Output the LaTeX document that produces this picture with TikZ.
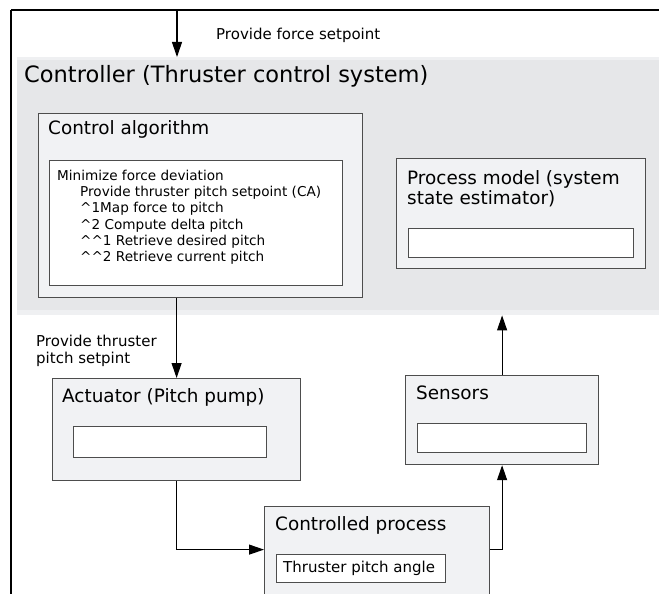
\documentclass[tikz,border=0pt]{standalone}
\usepackage{fontspec}
\setmainfont{DejaVu Sans}
\usetikzlibrary{arrows.meta}

\definecolor{ctrlgrey}{HTML}{E6E7E9}
\definecolor{ctrledge}{HTML}{EFF0F2}
\definecolor{boxfill}{HTML}{F1F2F4}
\definecolor{boxline}{HTML}{4D4D4D}

\tikzset{
  box/.style={draw=boxline, fill=boxfill, line width=1.2pt, inner sep=0pt, anchor=north west},
  slot/.style={draw=boxline, fill=white, line width=1pt, inner sep=0pt, anchor=north west},
  arr/.style={line width=1.1pt, -{Triangle[length=15pt,width=10pt]}},
  bigtitle/.style={anchor=base west, inner sep=0pt, font=\fontsize{22.5}{26}\selectfont},
  title/.style={anchor=base west, inner sep=0pt, align=left, font=\fontsize{18.4}{20}\selectfont},
  label/.style={anchor=base west, inner sep=0pt, align=left, font=\fontsize{15}{17}\selectfont},
  small/.style={anchor=base west, inner sep=0pt, font=\fontsize{13.6}{16.2}\selectfont}
}

\begin{document}
\begin{tikzpicture}[x=1pt,y=-1pt]
\useasboundingbox (0,0) rectangle (659,594);
\clip (0,0) rectangle (659,594);

% frame
\draw[line width=2pt](11,10)--(659,10) ;
\draw[line width=2pt](11,10)--(11,594) ;

% controller area
\node[anchor=north west, fill=ctrledge, minimum width=642pt, minimum height=258pt, inner sep=0pt] (ctrl) at (17,57) {};
\fill[ctrlgrey] (17,60) rectangle (659,310) ;
\node[bigtitle] (ctrltitle) at (24,82) {Controller (Thruster control system)};

% control algorithm
\node[box, minimum width=324pt, minimum height=184pt] (alg) at (38,113) {};
\node[title] (algtitle) at (48,134.5) {Control algorithm};
\node[slot, minimum width=293pt, minimum height=125pt] (algslot) at (49,160) {};
\node[small] (line1) at (57,180.5) {Minimize force deviation};
\node[small] (line2) at (80,196.7) {Provide thruster pitch setpoint (CA)};
\node[small] (line3) at (80,212.9) {\^{}1Map force to pitch};
\node[small] (line4) at (80,229.1) {\^{}2 Compute delta pitch};
\node[small] (line5) at (80,245.3) {\^{}\^{}1 Retrieve desired pitch};
\node[small] (line6) at (80,261.5) {\^{}\^{}2 Retrieve current pitch};

% process model
\node[box, minimum width=249pt, minimum height=110pt] (model) at (396,158) {};
\node[title] (modeltitle) at (407,204) {Process model (system\\state estimator)};
\node[slot, minimum width=225pt, minimum height=29pt] (modelslot) at (408,228) {};

% actuator
\node[box, minimum width=248pt, minimum height=102pt] (act) at (52,378) {};
\node[title] (acttitle) at (62,402) {Actuator (Pitch pump)};
\node[slot, minimum width=193pt, minimum height=31pt] (actslot) at (73,426) {};

% sensors
\node[box, minimum width=193pt, minimum height=89pt] (sens) at (405,375) {};
\node[title] (senstitle) at (416,399) {Sensors};
\node[slot, minimum width=169pt, minimum height=29pt] (sensslot) at (417,423) {};

% controlled process
\node[box, minimum width=225pt, minimum height=100pt] (proc) at (264,506) {};
\node[title] (proctitle) at (275,530) {Controlled process};
\node[slot, minimum width=169pt, minimum height=28pt] (procslot) at (276,554) {};
\node[label] (angle) at (283,572.7) {Thruster pitch angle};

% connectors
\coordinate (fsp) at (177,10);
\draw[arr] (fsp) -- (fsp |- ctrl.north) ;
\node[label] (fsplabel) at (216,39.5) {Provide force setpoint};
\draw[arr] (alg.south -| act.north) -- (act.north) ;
\node[label] (psplabel) at (36,363) {Provide thruster\\pitch setpint};
\draw[arr] (act.south) |- ([yshift=7pt]proc.west) ;
\draw[arr] ([yshift=7pt]proc.east) -| (sens.south) ;
\draw[arr] (sens.north) -- (sens.north |- ctrl.south) ;
\end{tikzpicture}
\end{document}
